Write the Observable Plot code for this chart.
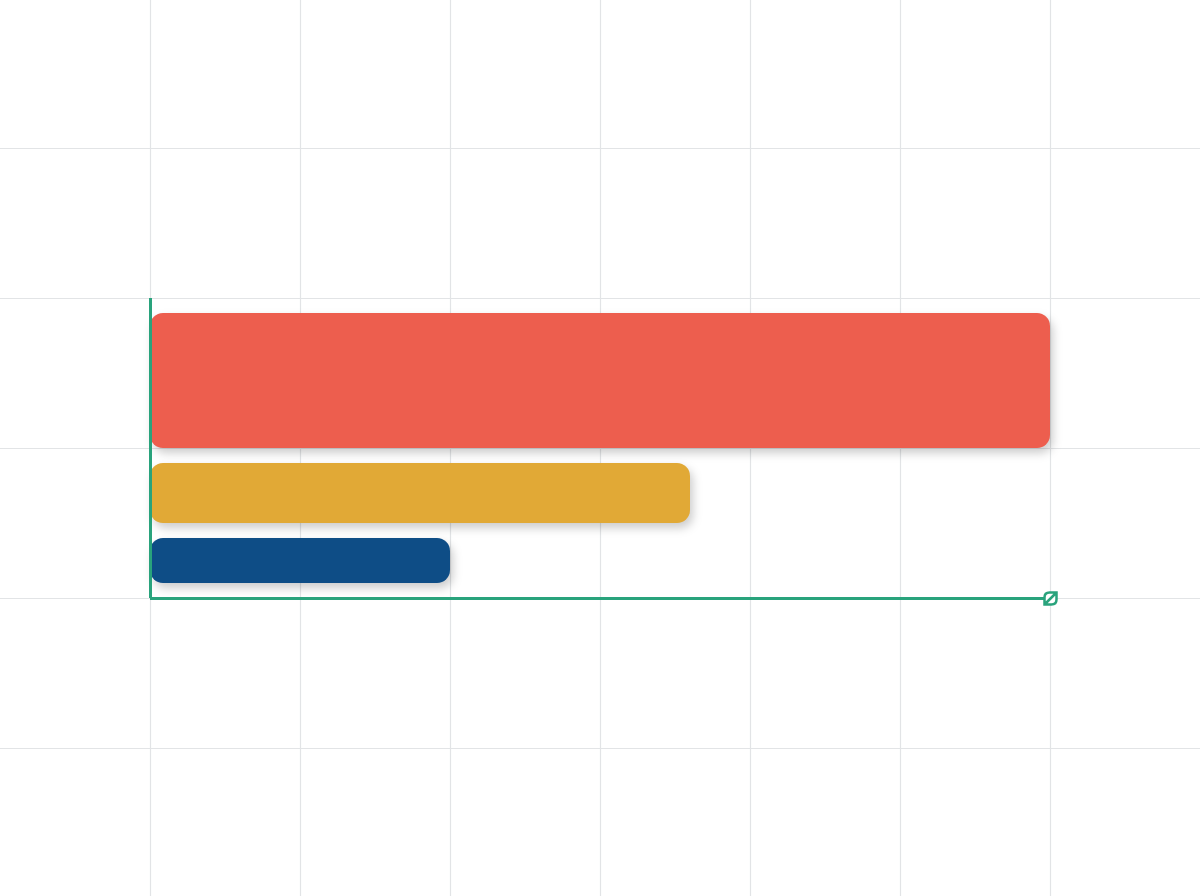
<!DOCTYPE html>
<html>
<head>
<meta charset="utf-8">
<script src="https://cdn.jsdelivr.net/npm/d3@7"></script>
<script src="https://cdn.jsdelivr.net/npm/@observablehq/plot@0.6"></script>
<style>
  html, body { margin: 0; padding: 0; background: #ffffff; }
  #chart svg { display: block; }
</style>
</head>
<body>
<div id="chart"></div>
<script>
// Data
const categories = ["A", "B", "C"];
const values = [6, 3.6, 2];
const bandStart = [1.0, 0.5, 0.1];
const bandEnd = [1.9, 0.9, 0.4];
const colors = ["#ED5E4E", "#E1A936", "#0E4D86"];
const xTicks = [0, 1, 2, 3, 4, 5, 6];
const yTicks = [-1, 0, 1, 2, 3];

const bars = categories.map((c, i) => ({
  category: c, value: values[i], y1: bandStart[i], y2: bandEnd[i], color: colors[i]
}));

const axisGreen = "#29A37C";

const leafSymbol = {
  draw(context, size) {
    const s = 6;
    context.moveTo(-s, s);
    context.lineTo(-s, -1);
    context.quadraticCurveTo(-s, -s, -1, -s);
    context.lineTo(s, -s);
    context.lineTo(s, 1);
    context.quadraticCurveTo(s, s, 1, s);
    context.closePath();
    context.moveTo(-s, s);
    context.lineTo(s, -s);
  }
};

const chart = Plot.plot({
  width: 1200,
  height: 896,
  margin: 0,
  x: { domain: [-1, 7], range: [0, 1200], axis: null },
  y: { domain: [-298 / 150, 598 / 150], range: [896, 0], axis: null },
  marks: [
    Plot.ruleX(xTicks, { stroke: "#e2e4e6", strokeWidth: 1.2 }),
    Plot.ruleY(yTicks, { stroke: "#e2e4e6", strokeWidth: 1.2 }),
    Plot.rect(bars, {
      x1: 0, x2: "value", y1: "y1", y2: "y2",
      fill: "color", rx: 13, className: "bars"
    }),
    Plot.ruleX([0], { y1: 0, y2: 2, stroke: axisGreen, strokeWidth: 3 }),
    Plot.ruleY([0], { x1: 0, x2: 6, stroke: axisGreen, strokeWidth: 3 }),
    Plot.dot([{ x: 6, y: 0 }], {
      x: "x", y: "y", symbol: leafSymbol, r: 6,
      stroke: axisGreen, strokeWidth: 2.5, fill: "white"
    })
  ]
});

document.getElementById("chart").appendChild(chart);
chart.querySelectorAll("rect").forEach(r => {
  const f = (r.getAttribute("fill") || "").toUpperCase();
  if (colors.includes(f)) {
    r.style.filter = "drop-shadow(3px 5px 5px rgba(0,0,0,0.2))";
  }
});
</script>
</body>
</html>
